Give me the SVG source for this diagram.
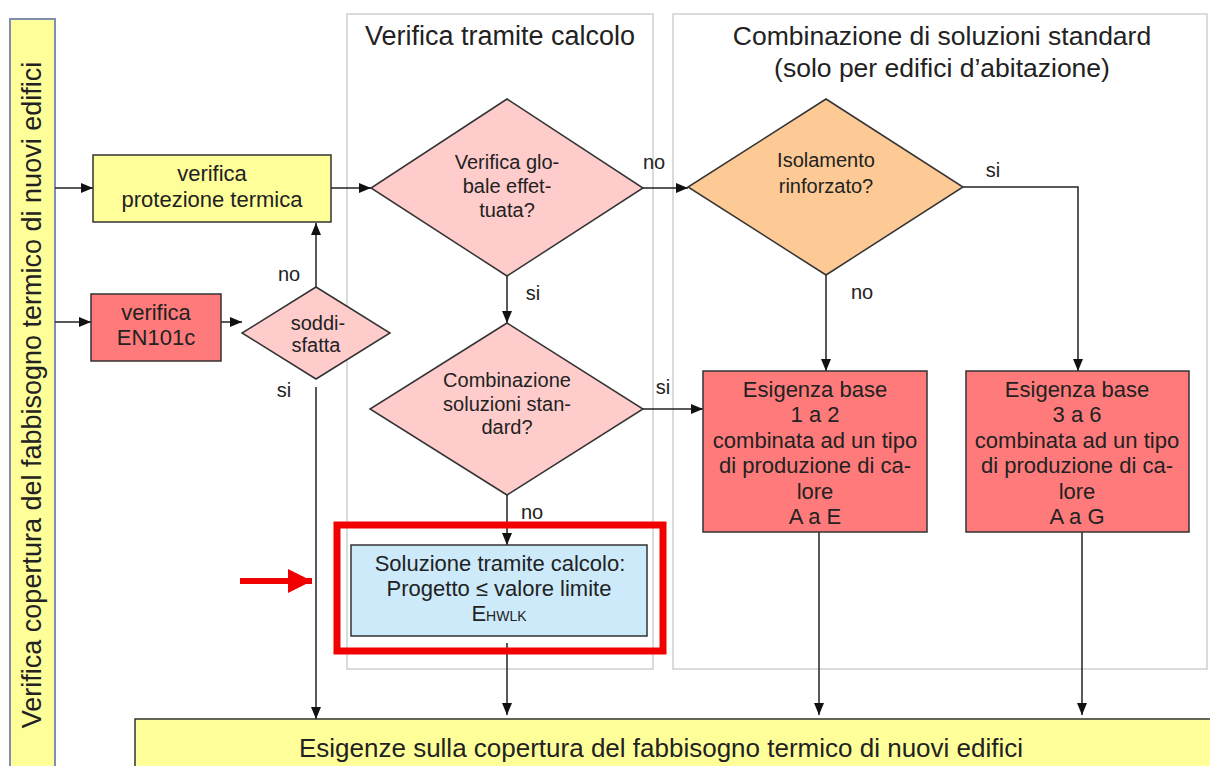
<svg xmlns="http://www.w3.org/2000/svg" width="1210" height="766" viewBox="0 0 1210 766">
<defs>
<style>
text{font-family:"Liberation Sans",Arial,sans-serif;fill:#222;text-anchor:middle}
.panel{fill:#fff;stroke:#cfcfcf;stroke-width:1.5}
.box{stroke:#333;stroke-width:1.5}
.yel{fill:#ffff9a}
.red{fill:#ff7a7a}
.pink{fill:#ffcccc}
.orange{fill:#fdca95}
.blue{fill:#cdeafa}
.t20{font-size:20px}
.t22{font-size:22px}
.lab{font-size:20px}
.conn line,.conn path{fill:none;stroke:#222;stroke-width:1.5}
</style>
<marker id="ah" viewBox="0 0 12 10" refX="12" refY="5" markerWidth="12" markerHeight="10" markerUnits="userSpaceOnUse" orient="auto">
<path d="M0,0 L12,5 L0,10 Z" fill="#111"/>
</marker>
<marker id="rah" viewBox="0 0 24 24" refX="24" refY="12" markerWidth="24" markerHeight="24" markerUnits="userSpaceOnUse" orient="auto">
<path d="M0,0 L24,12 L0,24 Z" fill="#f00000"/>
</marker>
</defs>
<rect width="1210" height="766" fill="#fff"/>

<g id="panels">
<rect class="panel" x="347" y="14" width="306" height="655"/>
<rect class="panel" x="673" y="14" width="534" height="655"/>
<text x="500" y="45" style="font-size:27px">Verifica tramite calcolo</text>
<text x="942" y="45" style="font-size:26.5px">Combinazione di soluzioni standard</text>
<text x="942" y="77" style="font-size:26.5px">(solo per edifici d’abitazione)</text>
</g>

<g id="left-bar">
<rect x="10" y="19" width="45" height="760" fill="#ffff9a" stroke="#7f8fb0" stroke-width="2"/>
<text transform="translate(41,395) rotate(-90)" style="font-size:27px">Verifica copertura del fabbisogno termico di nuovi edifici</text>
</g>

<g id="bottom-bar">
<rect class="box yel" x="135" y="719" width="1080" height="60"/>
<text x="661" y="757" style="font-size:26px">Esigenze sulla copertura del fabbisogno termico di nuovi edifici</text>
</g>

<g class="conn" id="connectors">
<line x1="55" y1="188" x2="93" y2="188" marker-end="url(#ah)"/>
<line x1="55" y1="322" x2="91" y2="322" marker-end="url(#ah)"/>
<line x1="221" y1="322" x2="242" y2="322" marker-end="url(#ah)"/>
<line x1="316" y1="287" x2="316" y2="223" marker-end="url(#ah)"/>
<line x1="316" y1="387" x2="316" y2="719" marker-end="url(#ah)"/>
<line x1="331" y1="188" x2="371" y2="188" marker-end="url(#ah)"/>
<line x1="643" y1="188" x2="688" y2="188" marker-end="url(#ah)"/>
<line x1="507" y1="276" x2="507" y2="323" marker-end="url(#ah)"/>
<path d="M963,187 H1078 V371" marker-end="url(#ah)"/>
<line x1="826" y1="275" x2="826" y2="371" marker-end="url(#ah)"/>
<line x1="643" y1="409" x2="703" y2="409" marker-end="url(#ah)"/>
<line x1="507" y1="495" x2="507" y2="545" marker-end="url(#ah)"/>
<line x1="507" y1="643" x2="507" y2="715" marker-end="url(#ah)"/>
<line x1="819" y1="532" x2="819" y2="715" marker-end="url(#ah)"/>
<line x1="1082" y1="532" x2="1082" y2="715" marker-end="url(#ah)"/>
<text class="lab" x="289" y="281">no</text>
<text class="lab" x="284" y="397">si</text>
<text class="lab" x="654" y="169">no</text>
<text class="lab" x="533" y="300">si</text>
<text class="lab" x="993" y="177">si</text>
<text class="lab" x="862" y="299">no</text>
<text class="lab" x="663" y="394">si</text>
<text class="lab" x="532" y="519">no</text>
</g>

<g id="verifica-protezione">
<rect class="box yel" x="93" y="155" width="238" height="67"/>
<text class="t22" x="212" y="181">verifica</text>
<text class="t22" x="212" y="207">protezione termica</text>
</g>

<g id="verifica-en101c">
<rect class="box red" x="91" y="294" width="130" height="67"/>
<text class="t22" x="156" y="320">verifica</text>
<text class="t22" x="156" y="345">EN101c</text>
</g>

<g id="soddisfatta">
<polygon class="box pink" points="316,287 390,333 316,379 242,333"/>
<text class="t20" x="318" y="330">soddi-</text>
<text class="t20" x="316" y="352">sfatta</text>
</g>

<g id="verifica-globale">
<polygon class="box pink" points="507,99 643,188 507,276 371,188"/>
<text class="t20" x="507" y="169">Verifica glo-</text>
<text class="t20" x="507" y="193">bale effet-</text>
<text class="t20" x="507" y="217">tuata?</text>
</g>

<g id="combinazione-soluzioni">
<polygon class="box pink" points="507,323 643,409 507,495 370,409"/>
<text class="t20" x="507" y="387">Combinazione</text>
<text class="t20" x="507" y="411">soluzioni stan-</text>
<text class="t20" x="507" y="434">dard?</text>
</g>

<g id="isolamento">
<polygon class="box orange" points="826,99 963,187 826,275 688,187"/>
<text class="t20" x="826" y="167">Isolamento</text>
<text class="t20" x="826" y="193">rinforzato?</text>
</g>

<g id="soluzione-calcolo">
<rect class="box blue" x="351" y="545" width="296" height="91"/>
<text class="t22" x="500" y="571">Soluzione tramite calcolo:</text>
<text class="t22" x="499" y="596">Progetto ≤ valore limite</text>
<text class="t22" x="499" y="621">E<tspan style="font-size:14px">HWLK</tspan></text>
</g>

<g id="esigenza-1-2">
<rect class="box red" x="703" y="371" width="224" height="161"/>
<text class="t22" x="815" y="397">Esigenza base</text>
<text class="t22" x="815" y="422">1 a 2</text>
<text class="t22" x="815" y="448">combinata ad un tipo</text>
<text class="t22" x="815" y="473">di produzione di ca-</text>
<text class="t22" x="815" y="499">lore</text>
<text class="t22" x="815" y="524">A a E</text>
</g>

<g id="esigenza-3-6">
<rect class="box red" x="966" y="371" width="223" height="161"/>
<text class="t22" x="1077" y="397">Esigenza base</text>
<text class="t22" x="1077" y="422">3 a 6</text>
<text class="t22" x="1077" y="448">combinata ad un tipo</text>
<text class="t22" x="1077" y="473">di produzione di ca-</text>
<text class="t22" x="1077" y="499">lore</text>
<text class="t22" x="1077" y="524">A a G</text>
</g>

<g id="highlight">
<rect x="337" y="525" width="326" height="126" fill="none" stroke="#f00000" stroke-width="7"/>
<line x1="240" y1="581" x2="312" y2="581" stroke="#f00000" stroke-width="6" marker-end="url(#rah)"/>
</g>
</svg>
